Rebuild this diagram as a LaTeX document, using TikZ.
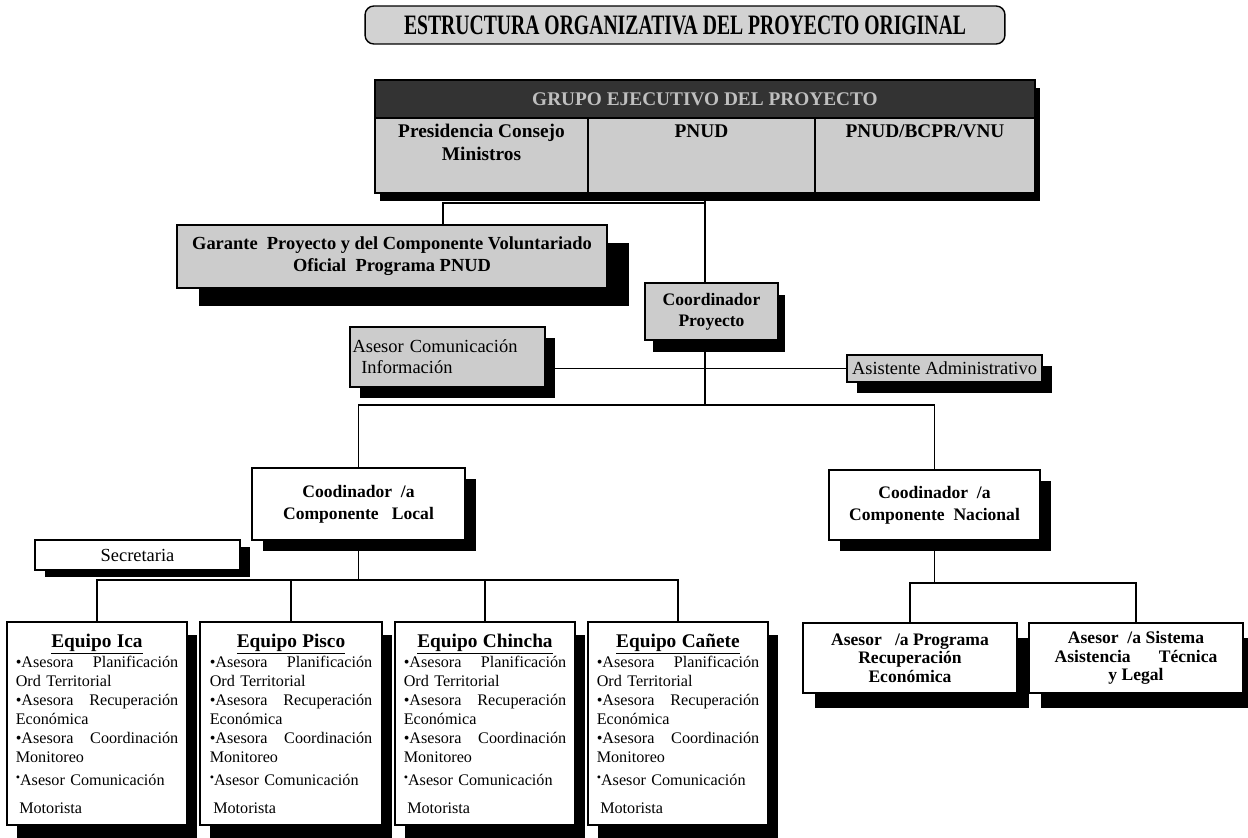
\documentclass[tikz,border=0pt]{standalone}
\usepackage{fontspec}
\setmainfont{Liberation Serif}
\usetikzlibrary{positioning,shadows}

\tikzset{
  gbox/.style={draw, line width=1pt, fill=gray!40},
  wbox/.style={draw, line width=1pt, fill=white},
  shad/.style 2 args={drop shadow={shadow xshift=#1, shadow yshift=#2, fill=black, opacity=1}},
  cell/.style={draw, line width=1pt, minimum height=1.5cm},
  celltxt/.style={align=center, inner sep=1pt, font=\fontsize{11}{13}\selectfont\bfseries},
  boss/.style={wbox, shad={0.22cm}{-0.22cm}, align=center, font=\fontsize{10}{12.5}\selectfont\bfseries},
  team/.style={wbox, shad={0.2cm}{-0.26cm}, minimum width=3.6cm, minimum height=4.06cm,
    text width=3.25cm, align=left, inner sep=0pt, font=\fontsize{9.2}{10.8}\selectfont},
  adv/.style={wbox, shad={0.24cm}{-0.3cm}, minimum width=4.28cm, minimum height=1.4cm,
    align=center, font=\fontsize{10}{10.5}\selectfont\bfseries},
  link/.style={line width=1pt}
}

\newcommand{\teamtxt}[1]{\hfill{\fontsize{11}{12}\selectfont\bfseries\underline{#1}}\hfill\null\\
  •Asesora\hfill Planificación\\ Ord Territorial\\
  •Asesora\hfill Recuperación\\ Económica\\
  •Asesora\hfill Coordinación\\ Monitoreo\\[2pt]
  \raisebox{2pt}{\scriptsize•}Asesor Comunicación\\[5pt]
  \hspace*{2pt}Motorista}

\begin{document}
\begin{tikzpicture}[x=0.02cm, y=-0.02cm]
\useasboundingbox (0,0) rectangle (1248,838);

\node[draw, line width=0.8pt, rounded corners=5pt, fill=gray!35, minimum width=12.8cm, minimum height=0.76cm] (title) at (685,25)
  {\scalebox{0.7}[1]{\fontsize{16}{18}\selectfont\bfseries ESTRUCTURA ORGANIZATIVA DEL PROYECTO ORIGINAL}};

\node[gbox, shad={0.1cm}{-0.16cm}, minimum width=13.2cm, minimum height=2.26cm] (exec) at (705,136.5) {};
\node[draw, line width=1pt, fill=black!80, text=gray!50, minimum width=13.2cm, minimum height=0.76cm,
  font=\fontsize{11}{13}\selectfont\bfseries] (head) at (705,99) {GRUPO EJECUTIVO DEL PROYECTO};
\node[cell, minimum width=4.26cm] (pcm) at (481.5,155.5) {};
\node[cell, minimum width=4.54cm] (pnud) at (701.5,155.5) {};
\node[cell, minimum width=4.4cm] (vnu) at (925,155.5) {};
\node[celltxt, below=3pt of pcm.north] (pcmtxt) {Presidencia Consejo\\Ministros};
\node[celltxt, below=3pt of pnud.north] (pnudtxt) {PNUD};
\node[celltxt, below=3pt of vnu.north] (vnutxt) {PNUD/BCPR/VNU};

\node[gbox, shad={0.44cm}{-0.36cm}, minimum width=8.6cm, minimum height=1.26cm, align=center,
  font=\fontsize{10.5}{12.5}\selectfont\bfseries] (garante) at (392,256.5)
  {Garante\ \ Proyecto y del Componente Voluntariado\\Oficial\ \ Programa PNUD};
\node[gbox, shad={0.15cm}{-0.24cm}, minimum width=2.66cm, minimum height=1.14cm, align=center,
  font=\fontsize{10}{12}\selectfont\bfseries] (coord) at (711.5,311.5) {Coordinador\\Proyecto};
\node[gbox, shad={0.2cm}{-0.22cm}, minimum width=3.9cm, minimum height=1.2cm, text width=3.8cm,
  align=left, inner sep=1pt, font=\fontsize{10.5}{12}\selectfont] (asesor) at (447.5,357)
  {Asesor Comunicación\\\hspace*{5pt}Información};
\node[gbox, shad={0.2cm}{-0.22cm}, minimum width=3.9cm, minimum height=0.54cm, inner sep=1pt,
  font=\fontsize{10.5}{12}\selectfont] (asistente) at (944.5,368.5) {Asistente Administrativo};

\node[boss, minimum width=4.26cm, minimum height=1.44cm] (local) at (358.5,504)
  {Coodinador\ \ /a\\Componente\ \ \ Local};
\node[boss, minimum width=4.22cm, minimum height=1.4cm] (nacional) at (934.5,505)
  {Coodinador\ \ /a\\Componente\ \ Nacional};
\node[wbox, shad={0.2cm}{-0.14cm}, minimum width=4.1cm, minimum height=0.6cm,
  font=\fontsize{10.5}{12}\selectfont] (secretaria) at (137.5,555) {Secretaria};

\node[team] (ica) at (97,723.5) {\teamtxt{Equipo Ica}};
\node[team, minimum width=3.64cm] (pisco) at (291,723.5) {\teamtxt{Equipo Pisco}};
\node[team] (chincha) at (485,723.5) {\teamtxt{Equipo Chincha}};
\node[team] (canete) at (678,723.5) {\teamtxt{Equipo Cañete}};

\node[adv] (programa) at (910,658) {Asesor\ \ \ /a Programa\\Recuperación\\Económica};
\node[adv] (sistema) at (1136,658) {Asesor\ \ /a Sistema\\Asistencia\hspace{1.6em}Técnica\\y Legal};

\coordinate (spine) at (705,0);
\coordinate (gtap) at (443,203);
\coordinate (hub) at (705,405);
\coordinate (lbar) at (358.5,580);
\coordinate (nbar) at (934.5,583);

\draw[link] (spine |- exec.south) -- (spine |- coord.north);
\draw[link] (gtap |- garante.north) -- (gtap) -- (gtap -| spine);
\draw[link] (asistente.west -| asesor.east) -- (asistente.west);
\draw[link] (spine |- coord.south) -- (hub);
\draw[link] (local.north) |- (hub) -| (nacional.north);
\draw[link] (local.south) -- (lbar);
\draw[link] (ica.north) |- (lbar) -| (canete.north);
\draw[link] (pisco.north) -- (pisco.north |- lbar);
\draw[link] (chincha.north) -- (chincha.north |- lbar);
\draw[link] (nacional.south) -- (nbar);
\draw[link] (programa.north) |- (nbar) -| (sistema.north);
\end{tikzpicture}
\end{document}
